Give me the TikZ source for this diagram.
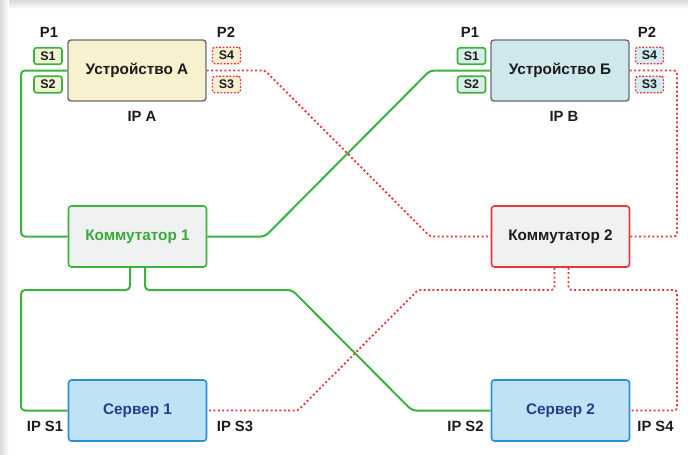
\documentclass[tikz,border=0pt]{standalone}
\usepackage{fontspec}
\setmainfont{Liberation Sans}
\definecolor{lgreen}{HTML}{3DB23D}
\definecolor{tgreen}{HTML}{3AA83A}
\definecolor{lred}{HTML}{E8383D}
\definecolor{devA}{HTML}{F8F1CF}
\definecolor{devB}{HTML}{CFE8EE}
\definecolor{swfill}{HTML}{F0F1F1}
\definecolor{srvfill}{HTML}{BFE3F5}
\definecolor{srvdraw}{HTML}{2B8FD6}
\definecolor{srvtext}{HTML}{213E90}
\definecolor{txt}{HTML}{1C1C1C}
\definecolor{pAg}{HTML}{F1F3D2}
\definecolor{pBg}{HTML}{D8EEE8}
\definecolor{pAr}{HTML}{F8EFD2}
\definecolor{pBr}{HTML}{D3EAF0}
\tikzset{
  box/.style={rectangle, rounded corners=3pt, line width=1.6pt, minimum width=138pt, minimum height=61pt, inner sep=0pt, font=\fontsize{15.3}{17}\selectfont\bfseries},
  devbox/.style={box, draw=gray!85!black, line width=1.4pt},
  swbox/.style={box, fill=swfill},
  srvbox/.style={box, fill=srvfill, draw=srvdraw, text=srvtext},
  port/.style={rectangle, rounded corners=2.5pt, minimum width=28pt, minimum height=16.5pt, inner sep=0pt, font=\fontsize{12.5}{13}\selectfont\bfseries, text=txt},
  gport/.style={port, draw=lgreen, line width=1.6pt},
  rport/.style={port, draw=lred, line width=1.4pt, dash pattern=on 1.8pt off 1.6pt},
  lbl/.style={font=\fontsize{14.8}{16}\selectfont\bfseries, text=txt, inner sep=0pt},
  gline/.style={draw=lgreen, line width=2pt, rounded corners=4pt},
  rline/.style={draw=lred, line width=1.8pt, dash pattern=on 2pt off 2.4pt, rounded corners=3pt}
}
\begin{document}
\begin{tikzpicture}[x=1pt,y=-1pt]
\useasboundingbox (0,0) rectangle (688,455);
\fill[white] (0,0) rectangle (688,455);
\shade[top color=gray!30, bottom color=white] (0,0) rectangle (688,9);
\shade[left color=gray!30, right color=white] (0,0) rectangle (9,455);
\fill[white] (9,9) rectangle (688,455);

% devices
\node[devbox, fill=devA, text=txt] (A) at (137,70.5) {Устройство А};
\node[devbox, fill=devB, text=txt] (B) at (560,70.5) {Устройство Б};
\node[swbox, draw=lgreen, text=tgreen] (K1) at (137.5,236.5) {Коммутатор 1};
\node[swbox, draw=lred, text=txt] (K2) at (560.5,236.5) {Коммутатор 2};
\node[srvbox] (C1) at (137.5,410.5) {Сервер 1};
\node[srvbox] (C2) at (560.5,410.5) {Сервер 2};

% ports
\node[gport, fill=pAg] (AS1) at (48,56) {S1};
\node[gport, fill=pAg] (AS2) at (48,84.5) {S2};
\node[rport, fill=pAr] (AS4) at (226.5,55.5) {S4};
\node[rport, fill=pAr] (AS3) at (226.5,84.5) {S3};
\node[gport, fill=pBg] (BS1) at (471.5,56) {S1};
\node[gport, fill=pBg] (BS2) at (471.5,84.5) {S2};
\node[rport, fill=pBr] (BS4) at (649.5,55.5) {S4};
\node[rport, fill=pBr] (BS3) at (649.5,84.5) {S3};

% labels
\node[lbl] (PA1) at (49,32) {P1};
\node[lbl] (PA2) at (226,32) {P2};
\node[lbl] (PB1) at (470,32) {P1};
\node[lbl] (PB2) at (647,32) {P2};
\node[lbl] (IPA) at (142,116) {IP A};
\node[lbl] (IPB) at (564,116) {IP B};
\node[lbl] (IS1) at (45,426) {IP S1};
\node[lbl] (IS3) at (235,426) {IP S3};
\node[lbl] (IS2) at (465.5,426) {IP S2};
\node[lbl] (IS4) at (655.5,426) {IP S4};

% green links
\draw[gline] (A.west) -- (21,70.5) -- (21,236.5) -- (K1.west);
\draw[gline] (K1.east) -- (265,236.5) -- (430,70.5) -- (B.west);
\draw[gline] ([xshift=-7.5pt]K1.south) -- (130,290) -- (21,290) -- (21,410.5) -- (C1.west);
\draw[gline] ([xshift=7.5pt]K1.south) -- (145,290) -- (292,290) -- (412,410.5) -- (C2.west);

% red links
\draw[rline] (A.east) -- (265,70.5) -- (430,236.5) -- (K2.west);
\draw[rline] (K2.east) -- (677,236.5) -- (677,70.5) -- (B.east);
\draw[rline] ([xshift=-6pt]K2.south) -- (554.5,290) -- (418,290) -- (298,410.5) -- (C1.east);
\draw[rline] ([xshift=8pt]K2.south) -- (568.5,290) -- (677,290) -- (677,410.5) -- (C2.east);
\end{tikzpicture}
\end{document}
